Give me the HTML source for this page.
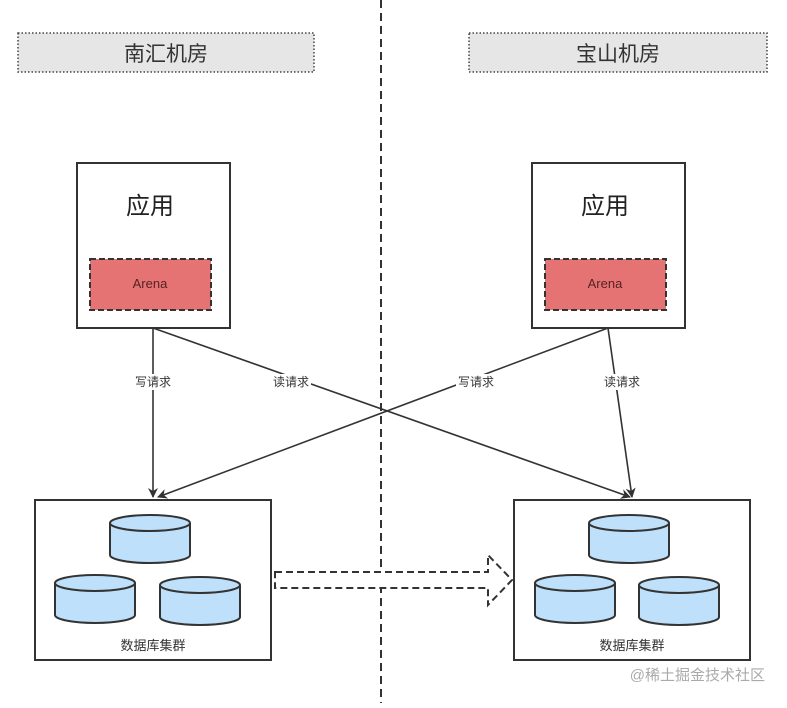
<!DOCTYPE html>
<html><head><meta charset="utf-8"><style>
body{margin:0;background:#fff;width:787px;height:703px;overflow:hidden}
text{font-family:"Liberation Sans","Noto Sans CJK SC",sans-serif}
</style></head><body>
<svg width="787" height="703" viewBox="0 0 787 703" xmlns="http://www.w3.org/2000/svg">
<defs>
<marker id="a" markerWidth="10" markerHeight="10" refX="9" refY="5" orient="auto" markerUnits="userSpaceOnUse"><path d="M0,0 L10,5 L0,10 L3,5 Z" fill="#333"/></marker>
<g id="cyl"><path d="M0,8 v32 a40,8 0 0 0 80,0 v-32" fill="#bfe0fa" stroke="#333" stroke-width="2"/><ellipse cx="40" cy="8" rx="40" ry="8" fill="#bfe0fa" stroke="#333" stroke-width="2"/></g>
</defs>
<line x1="381" y1="0" x2="381" y2="703" stroke="#333" stroke-width="2" stroke-dasharray="8,5"/>
<rect x="18" y="33" width="296" height="39" fill="#e6e6e6" stroke="#444" stroke-width="1.5" stroke-dasharray="1.5,2"/>
<text x="166" y="61" font-size="21" fill="#333" text-anchor="middle">南汇机房</text>
<rect x="469" y="33" width="298" height="39" fill="#e6e6e6" stroke="#444" stroke-width="1.5" stroke-dasharray="1.5,2"/>
<text x="618" y="61" font-size="21" fill="#333" text-anchor="middle">宝山机房</text>
<g stroke="#333" stroke-width="2" fill="#fff">
<rect x="77" y="163" width="153" height="165"/>
<rect x="532" y="163" width="153" height="165"/>
<rect x="35" y="500" width="236" height="160"/>
<rect x="514" y="500" width="236" height="160"/>
</g>
<text x="150" y="214" font-size="24" fill="#222" text-anchor="middle">应用</text>
<text x="605" y="214" font-size="24" fill="#222" text-anchor="middle">应用</text>
<rect x="90" y="259" width="121" height="51" fill="#e57373" stroke="#333" stroke-width="2" stroke-dasharray="6,3"/>
<rect x="545" y="259" width="121" height="51" fill="#e57373" stroke="#333" stroke-width="2" stroke-dasharray="6,3"/>
<text x="150" y="288" font-size="13" fill="#552222" text-anchor="middle">Arena</text>
<text x="605" y="288" font-size="13" fill="#552222" text-anchor="middle">Arena</text>
<g stroke="#333" stroke-width="1.6" marker-end="url(#a)">
<line x1="153" y1="328" x2="153" y2="497"/>
<line x1="153" y1="328" x2="630" y2="497"/>
<line x1="608" y1="328" x2="632" y2="497"/>
<line x1="608" y1="328" x2="158" y2="497"/>
</g>
<g font-size="12" fill="#333" text-anchor="middle">
<rect x="133" y="374" width="40" height="16" fill="#fff"/>
<text x="153" y="386">写请求</text>
<rect x="271" y="374" width="40" height="16" fill="#fff"/>
<text x="291" y="386">读请求</text>
<rect x="456" y="374" width="40" height="16" fill="#fff"/>
<text x="476" y="386">写请求</text>
<rect x="602" y="374" width="40" height="16" fill="#fff"/>
<text x="622" y="386">读请求</text>
</g>
<use href="#cyl" x="110" y="515"/>
<use href="#cyl" x="55" y="575"/>
<use href="#cyl" x="160" y="577"/>
<use href="#cyl" x="589" y="515"/>
<use href="#cyl" x="535" y="575"/>
<use href="#cyl" x="639" y="577"/>
<text x="153" y="650" font-size="13" fill="#333" text-anchor="middle">数据库集群</text>
<text x="632" y="650" font-size="13" fill="#333" text-anchor="middle">数据库集群</text>
<path d="M275,572 H488 V555 L512,580 L488,605 V588 H275 Z" fill="#fff" stroke="#333" stroke-width="2" stroke-dasharray="7,4"/>
<text x="765" y="680" font-size="15" fill="#aaa" text-anchor="end">@稀土掘金技术社区</text>
</svg>
</body></html>
